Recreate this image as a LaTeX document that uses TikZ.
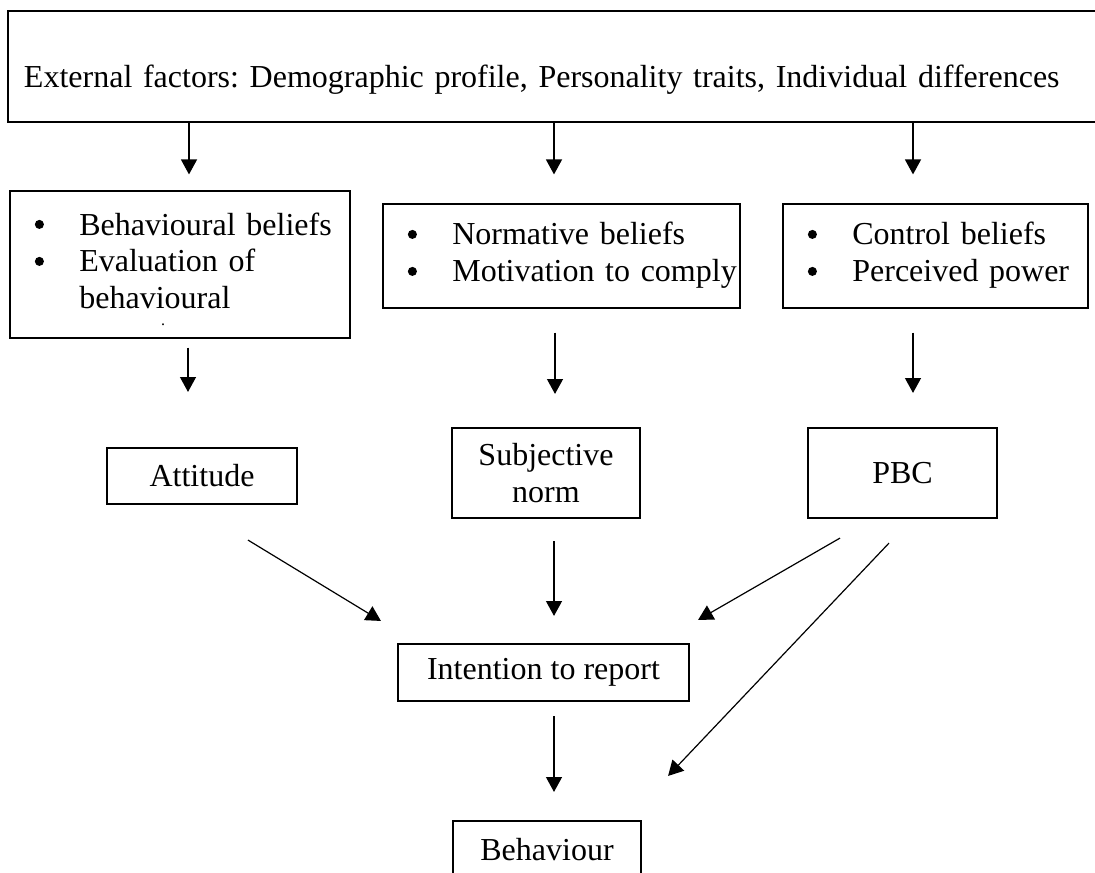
\documentclass[tikz,border=0pt]{standalone}
\usepackage{fontspec}
\setmainfont{Liberation Serif}
\usetikzlibrary{arrows.meta,calc,positioning}
\newcommand{\pxu}{0.375pt}
\frenchspacing

\begin{document}
\begin{tikzpicture}[x=0.375pt,y=-0.375pt,
		font=\fontsize{12}{13.8}\selectfont,
		every node/.style={inner sep=0pt},
		topbox/.style={draw,line width=1.1pt,align=left,inner xsep=16*\pxu,text width=1060*\pxu,minimum height=111*\pxu,text height=16.3pt,text depth=0.5pt},
		beliefbox/.style={draw,line width=0.45pt,align=left,inner xsep=9pt},
		factor/.style={draw,line width=0.8pt,align=center},
		arr/.style={-{Triangle[length=5.6pt,width=6pt]},line width=0.45pt}]
		\path[use as bounding box,clip] (0,0) rectangle (1095,872);
		%\draw[help lines] (0,0) grid (1095,872);
		\node[topbox] (ext) at (554,66.5) {External factors: Demographic profile, Personality traits, Individual differences};
		\node[beliefbox,text width=292*\pxu,minimum height=147*\pxu] (bb) at (180,264.5) {\begin{tabular}{@{}p{17pt}@{}l@{}}
				& Behavioural beliefs\\
				& Evaluation of\\
				& behavioural
			\end{tabular}};
		\node[font=\fontsize{6}{7}\selectfont] (dotmark) at (163,325) {.};
		\node[beliefbox,text width=309*\pxu,minimum height=104*\pxu] (nb) at (561.5,256) {\begin{tabular}{@{}p{17pt}@{}l@{}}
				& Normative beliefs\\
				& Motivation to comply
			\end{tabular}};
		\node[beliefbox,text width=257*\pxu,minimum height=104*\pxu] (cb) at (935.5,256) {\begin{tabular}{@{}p{17pt}@{}l@{}}
				& Control beliefs\\
				& Perceived power
			\end{tabular}};
		% bullets
		\foreach \nd/\dy in {bb/34,bb/71,nb/31,nb/68,cb/31,cb/68}
			\fill ($(\nd.north west)+(30,\dy)$) circle[radius=1.7pt];
		\node[factor,minimum width=190*\pxu,minimum height=56*\pxu] (att) at (202,476) {Attitude};
		\node[factor,minimum width=188*\pxu,minimum height=90*\pxu] (sub) at (546,473) {Subjective\\norm};
		\node[factor,minimum width=189*\pxu,minimum height=90*\pxu] (pbc) at (902.5,473) {PBC};
		\node[factor,minimum width=291*\pxu,minimum height=57*\pxu] (int) at (543.5,672.5) {Intention to report};
		\node[factor,minimum width=188*\pxu,minimum height=57*\pxu] (beh) at (547,849.5) {Behaviour};
		\draw[arr] ($(ext.south -| bb.north)+(9,0)$) -- ($(bb.north)+(9,-16)$);
		\draw[arr] ($(ext.south -| nb.north)+(-7.5,0)$) -- ($(nb.north)+(-7.5,-29)$);
		\draw[arr] ($(ext.south -| cb.north)+(-22.5,0)$) -- ($(cb.north)+(-22.5,-29)$);
		\draw[arr] ($(bb.south)+(8,9)$) -- ($(att.north)+(-14,-55)$);
		\draw[arr] ($(nb.south)+(-6.5,24)$) -- ($(sub.north)+(9,-33)$);
		\draw[arr] ($(cb.south)+(-22.5,24)$) -- ($(pbc.north)+(10.5,-34)$);
		\draw[arr] ($(att.south)+(46,35)$) -- ($(int.north west)+(-16,-22)$);
		\draw[arr] ($(sub.south)+(8,22)$) -- ($(int.north)+(10.5,-27)$);
		\draw[arr] ($(pbc.south)+(-62.5,19)$) -- ($(int.north east)+(8,-23)$);
		\draw[arr] ($(pbc.south)+(-13.5,24)$) -- ($(beh.north east)+(26,-44)$);
		\draw[arr] ($(int.south)+(10.5,14)$) -- ($(beh.north)+(7,-28)$);
	\end{tikzpicture}
\end{document}
